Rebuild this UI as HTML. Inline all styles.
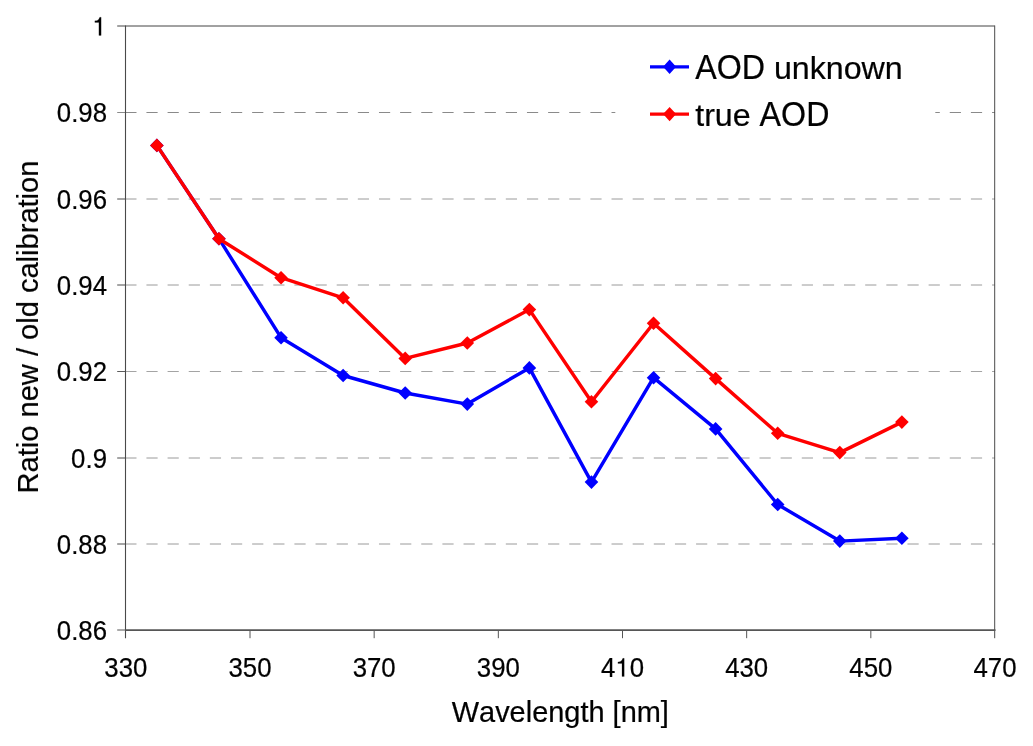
<!DOCTYPE html><html><head><meta charset="utf-8"><title>chart</title><style>
html,body{margin:0;padding:0;background:#fff;overflow:hidden;}
svg{display:block;}
text{font-family:"Liberation Sans",sans-serif;fill:#000;font-kerning:none;white-space:pre;}
</style></head><body>
<svg width="1033" height="746" viewBox="0 0 1033 746">
<rect x="0" y="0" width="1033" height="746" fill="#ffffff"/>
<line x1="125.3" y1="112.5" x2="995.0" y2="112.5" stroke="#8a8a8a" stroke-width="1" stroke-dasharray="11.2 9.94"/>
<line x1="125.3" y1="199.0" x2="995.0" y2="199.0" stroke="#9a9a9a" stroke-width="1" stroke-dasharray="11.2 9.94"/>
<line x1="125.3" y1="285.0" x2="995.0" y2="285.0" stroke="#9a9a9a" stroke-width="1" stroke-dasharray="11.2 9.94"/>
<line x1="125.3" y1="371.5" x2="995.0" y2="371.5" stroke="#a4a4a4" stroke-width="1" stroke-dasharray="11.2 9.94"/>
<line x1="125.3" y1="458.0" x2="995.0" y2="458.0" stroke="#9a9a9a" stroke-width="1" stroke-dasharray="11.2 9.94"/>
<line x1="125.3" y1="544.0" x2="995.0" y2="544.0" stroke="#9a9a9a" stroke-width="1" stroke-dasharray="11.2 9.94"/>
<rect x="615.3" y="40" width="320" height="100" fill="#ffffff"/>
<line x1="117.2" y1="112.5" x2="125.5" y2="112.5" stroke="#8a8a8a" stroke-width="1"/>
<line x1="117.2" y1="199.0" x2="125.5" y2="199.0" stroke="#4a4a4a" stroke-width="1"/>
<line x1="117.2" y1="285.0" x2="125.5" y2="285.0" stroke="#4a4a4a" stroke-width="1"/>
<line x1="117.2" y1="371.5" x2="125.5" y2="371.5" stroke="#5c5c5c" stroke-width="1"/>
<line x1="117.2" y1="458.0" x2="125.5" y2="458.0" stroke="#4a4a4a" stroke-width="1"/>
<line x1="117.2" y1="544.0" x2="125.5" y2="544.0" stroke="#4a4a4a" stroke-width="1"/>
<path d="M117.2 26.0H994.7" fill="none" stroke="#454545" stroke-width="1"/>
<path d="M994.7 25.5V638.2" fill="none" stroke="#4a4a4a" stroke-width="1"/>
<line x1="250.00" y1="630.0" x2="250.00" y2="638.2" stroke="#555555" stroke-width="1"/>
<line x1="374.16" y1="630.0" x2="374.16" y2="638.2" stroke="#555555" stroke-width="1"/>
<line x1="498.33" y1="630.0" x2="498.33" y2="638.2" stroke="#555555" stroke-width="1"/>
<line x1="622.50" y1="630.0" x2="622.50" y2="638.2" stroke="#555555" stroke-width="1"/>
<line x1="746.67" y1="630.0" x2="746.67" y2="638.2" stroke="#555555" stroke-width="1"/>
<line x1="870.83" y1="630.0" x2="870.83" y2="638.2" stroke="#555555" stroke-width="1"/>
<path d="M125.5 25.5V638.2" fill="none" stroke="#4a4a4a" stroke-width="1.1"/>
<path d="M117.2 630.0H125.5" fill="none" stroke="#555555" stroke-width="1"/>
<path d="M125.5 630.15H995.5" fill="none" stroke="#565656" stroke-width="1.7"/>
<polyline points="156.87,145.40 218.96,238.70 281.04,337.70 343.12,375.50 405.21,393.00 467.29,404.10 529.37,367.90 591.46,482.10 653.54,377.70 715.62,428.90 777.71,504.50 839.79,541.10 901.87,538.30" fill="none" stroke="#0000ff" stroke-width="3.45" stroke-linejoin="round"/>
<path d="M150.07 145.40L156.87 138.60L163.67 145.40L156.87 152.20Z" fill="#0000ff"/>
<path d="M212.16 238.70L218.96 231.90L225.76 238.70L218.96 245.50Z" fill="#0000ff"/>
<path d="M274.24 337.70L281.04 330.90L287.84 337.70L281.04 344.50Z" fill="#0000ff"/>
<path d="M336.32 375.50L343.12 368.70L349.92 375.50L343.12 382.30Z" fill="#0000ff"/>
<path d="M398.41 393.00L405.21 386.20L412.01 393.00L405.21 399.80Z" fill="#0000ff"/>
<path d="M460.49 404.10L467.29 397.30L474.09 404.10L467.29 410.90Z" fill="#0000ff"/>
<path d="M522.57 367.90L529.37 361.10L536.17 367.90L529.37 374.70Z" fill="#0000ff"/>
<path d="M584.66 482.10L591.46 475.30L598.26 482.10L591.46 488.90Z" fill="#0000ff"/>
<path d="M646.74 377.70L653.54 370.90L660.34 377.70L653.54 384.50Z" fill="#0000ff"/>
<path d="M708.82 428.90L715.62 422.10L722.42 428.90L715.62 435.70Z" fill="#0000ff"/>
<path d="M770.91 504.50L777.71 497.70L784.51 504.50L777.71 511.30Z" fill="#0000ff"/>
<path d="M832.99 541.10L839.79 534.30L846.59 541.10L839.79 547.90Z" fill="#0000ff"/>
<path d="M895.07 538.30L901.87 531.50L908.67 538.30L901.87 545.10Z" fill="#0000ff"/>
<polyline points="156.87,145.40 218.96,238.70 281.04,277.70 343.12,297.80 405.21,358.40 467.29,343.00 529.37,309.60 591.46,401.70 653.54,323.20 715.62,378.60 777.71,433.30 839.79,452.60 901.87,422.10" fill="none" stroke="#ff0000" stroke-width="3.45" stroke-linejoin="round"/>
<path d="M150.07 145.40L156.87 138.60L163.67 145.40L156.87 152.20Z" fill="#ff0000"/>
<path d="M212.16 238.70L218.96 231.90L225.76 238.70L218.96 245.50Z" fill="#ff0000"/>
<path d="M274.24 277.70L281.04 270.90L287.84 277.70L281.04 284.50Z" fill="#ff0000"/>
<path d="M336.32 297.80L343.12 291.00L349.92 297.80L343.12 304.60Z" fill="#ff0000"/>
<path d="M398.41 358.40L405.21 351.60L412.01 358.40L405.21 365.20Z" fill="#ff0000"/>
<path d="M460.49 343.00L467.29 336.20L474.09 343.00L467.29 349.80Z" fill="#ff0000"/>
<path d="M522.57 309.60L529.37 302.80L536.17 309.60L529.37 316.40Z" fill="#ff0000"/>
<path d="M584.66 401.70L591.46 394.90L598.26 401.70L591.46 408.50Z" fill="#ff0000"/>
<path d="M646.74 323.20L653.54 316.40L660.34 323.20L653.54 330.00Z" fill="#ff0000"/>
<path d="M708.82 378.60L715.62 371.80L722.42 378.60L715.62 385.40Z" fill="#ff0000"/>
<path d="M770.91 433.30L777.71 426.50L784.51 433.30L777.71 440.10Z" fill="#ff0000"/>
<path d="M832.99 452.60L839.79 445.80L846.59 452.60L839.79 459.40Z" fill="#ff0000"/>
<path d="M895.07 422.10L901.87 415.30L908.67 422.10L901.87 428.90Z" fill="#ff0000"/>
<g opacity="0.999">
<path transform="translate(92.20,35.40) scale(0.0258,-0.02575)" d="M259 0V505H102V566C182 571 262 596 291 709H347V0Z" fill="#000" stroke="#000" stroke-width="6"/>
<g transform="translate(107.00,122.00)">
<text transform="translate(-50.22,0) scale(1,1.075)" font-size="25.8" stroke="#000" stroke-width="0.22" xml:space="preserve">0</text>
<text transform="translate(-35.86,0) scale(1,1.0)" font-size="25.8" stroke="#000" stroke-width="0.22" xml:space="preserve">.</text>
<text transform="translate(-28.69,0) scale(1,1.075)" font-size="25.8" stroke="#000" stroke-width="0.22" xml:space="preserve">98</text>
</g>
<g transform="translate(107.00,208.50)">
<text transform="translate(-50.22,0) scale(1,1.075)" font-size="25.8" stroke="#000" stroke-width="0.22" xml:space="preserve">0</text>
<text transform="translate(-35.86,0) scale(1,1.0)" font-size="25.8" stroke="#000" stroke-width="0.22" xml:space="preserve">.</text>
<text transform="translate(-28.69,0) scale(1,1.075)" font-size="25.8" stroke="#000" stroke-width="0.22" xml:space="preserve">96</text>
</g>
<g transform="translate(107.00,294.50)">
<text transform="translate(-50.22,0) scale(1,1.075)" font-size="25.8" stroke="#000" stroke-width="0.22" xml:space="preserve">0</text>
<text transform="translate(-35.86,0) scale(1,1.0)" font-size="25.8" stroke="#000" stroke-width="0.22" xml:space="preserve">.</text>
<text transform="translate(-28.69,0) scale(1,1.075)" font-size="25.8" stroke="#000" stroke-width="0.22" xml:space="preserve">94</text>
</g>
<g transform="translate(107.00,381.00)">
<text transform="translate(-50.22,0) scale(1,1.075)" font-size="25.8" stroke="#000" stroke-width="0.22" xml:space="preserve">0</text>
<text transform="translate(-35.86,0) scale(1,1.0)" font-size="25.8" stroke="#000" stroke-width="0.22" xml:space="preserve">.</text>
<text transform="translate(-28.69,0) scale(1,1.075)" font-size="25.8" stroke="#000" stroke-width="0.22" xml:space="preserve">92</text>
</g>
<g transform="translate(107.00,467.50)">
<text transform="translate(-35.88,0) scale(1,1.075)" font-size="25.8" stroke="#000" stroke-width="0.22" xml:space="preserve">0</text>
<text transform="translate(-21.52,0) scale(1,1.0)" font-size="25.8" stroke="#000" stroke-width="0.22" xml:space="preserve">.</text>
<text transform="translate(-14.34,0) scale(1,1.075)" font-size="25.8" stroke="#000" stroke-width="0.22" xml:space="preserve">9</text>
</g>
<g transform="translate(107.00,553.50)">
<text transform="translate(-50.22,0) scale(1,1.075)" font-size="25.8" stroke="#000" stroke-width="0.22" xml:space="preserve">0</text>
<text transform="translate(-35.86,0) scale(1,1.0)" font-size="25.8" stroke="#000" stroke-width="0.22" xml:space="preserve">.</text>
<text transform="translate(-28.69,0) scale(1,1.075)" font-size="25.8" stroke="#000" stroke-width="0.22" xml:space="preserve">88</text>
</g>
<g transform="translate(107.00,639.50)">
<text transform="translate(-50.22,0) scale(1,1.075)" font-size="25.8" stroke="#000" stroke-width="0.22" xml:space="preserve">0</text>
<text transform="translate(-35.86,0) scale(1,1.0)" font-size="25.8" stroke="#000" stroke-width="0.22" xml:space="preserve">.</text>
<text transform="translate(-28.69,0) scale(1,1.075)" font-size="25.8" stroke="#000" stroke-width="0.22" xml:space="preserve">86</text>
</g>
<g transform="translate(125.83,676.80)">
<text transform="translate(-21.52,0) scale(1,1.075)" font-size="25.8" stroke="#000" stroke-width="0.22" xml:space="preserve">330</text>
</g>
<g transform="translate(250.00,676.80)">
<text transform="translate(-21.52,0) scale(1,1.075)" font-size="25.8" stroke="#000" stroke-width="0.22" xml:space="preserve">350</text>
</g>
<g transform="translate(374.16,676.80)">
<text transform="translate(-21.52,0) scale(1,1.075)" font-size="25.8" stroke="#000" stroke-width="0.22" xml:space="preserve">370</text>
</g>
<g transform="translate(498.33,676.80)">
<text transform="translate(-21.52,0) scale(1,1.075)" font-size="25.8" stroke="#000" stroke-width="0.22" xml:space="preserve">390</text>
</g>
<path transform="translate(615.28,676.60) scale(0.0258,-0.02575)" d="M259 0V505H102V566C182 571 262 596 291 709H347V0Z" fill="#000" stroke="#000" stroke-width="6"/>
<g transform="translate(615.33,676.80)">
<text transform="translate(-14.36,0) scale(1,1.075)" font-size="25.8" stroke="#000" stroke-width="0.22" xml:space="preserve">4</text>
</g>
<g transform="translate(629.67,676.80)">
<text transform="translate(0.00,0) scale(1,1.075)" font-size="25.8" stroke="#000" stroke-width="0.22" xml:space="preserve">0</text>
</g>
<g transform="translate(746.67,676.80)">
<text transform="translate(-21.52,0) scale(1,1.075)" font-size="25.8" stroke="#000" stroke-width="0.22" xml:space="preserve">430</text>
</g>
<g transform="translate(870.83,676.80)">
<text transform="translate(-21.52,0) scale(1,1.075)" font-size="25.8" stroke="#000" stroke-width="0.22" xml:space="preserve">450</text>
</g>
<g transform="translate(995.00,676.80)">
<text transform="translate(-21.52,0) scale(1,1.075)" font-size="25.8" stroke="#000" stroke-width="0.22" xml:space="preserve">470</text>
</g>
<g transform="translate(560.30,722.00)">
<text transform="translate(-108.57,0) scale(1,1.045)" font-size="28.95" stroke="#000" stroke-width="0.22" xml:space="preserve">W</text>
<text transform="translate(-81.24,0) scale(1,1.0)" font-size="28.95" stroke="#000" stroke-width="0.22" xml:space="preserve">avelength [nm]</text>
</g>
<g transform="translate(38.00,326.95) rotate(-90)">
<text transform="translate(-166.40,0) scale(1,1.045)" font-size="29.07" stroke="#000" stroke-width="0.22" xml:space="preserve">R</text>
<text transform="translate(-145.40,0) scale(1,1.0)" font-size="29.07" stroke="#000" stroke-width="0.22" xml:space="preserve">atio new / old calibration</text>
</g>
<line x1="650" y1="66.8" x2="689" y2="66.8" stroke="#0000ff" stroke-width="3.3"/>
<path d="M663.1 66.8L669.6 59.599999999999994L676.1 66.8L669.6 74.0Z" fill="#0000ff"/>
<g transform="translate(695.20,78.80)">
<text transform="translate(0.00,0) scale(1,1.08)" font-size="32.2" stroke="#000" stroke-width="0.22" xml:space="preserve">AOD</text>
<text transform="translate(69.77,0) scale(1,1.0)" font-size="32.2" stroke="#000" stroke-width="0.22" xml:space="preserve"> unknown</text>
</g>
<line x1="650" y1="114.1" x2="689" y2="114.1" stroke="#ff0000" stroke-width="3.3"/>
<path d="M663.1 114.1L669.6 106.89999999999999L676.1 114.1L669.6 121.3Z" fill="#ff0000"/>
<g transform="translate(695.20,126.10)">
<text transform="translate(0.00,0) scale(1,1.0)" font-size="32.2" stroke="#000" stroke-width="0.22" xml:space="preserve">true </text>
<text transform="translate(64.42,0) scale(1,1.08)" font-size="32.2" stroke="#000" stroke-width="0.22" xml:space="preserve">AOD</text>
</g>
</g>
</svg></body></html>
